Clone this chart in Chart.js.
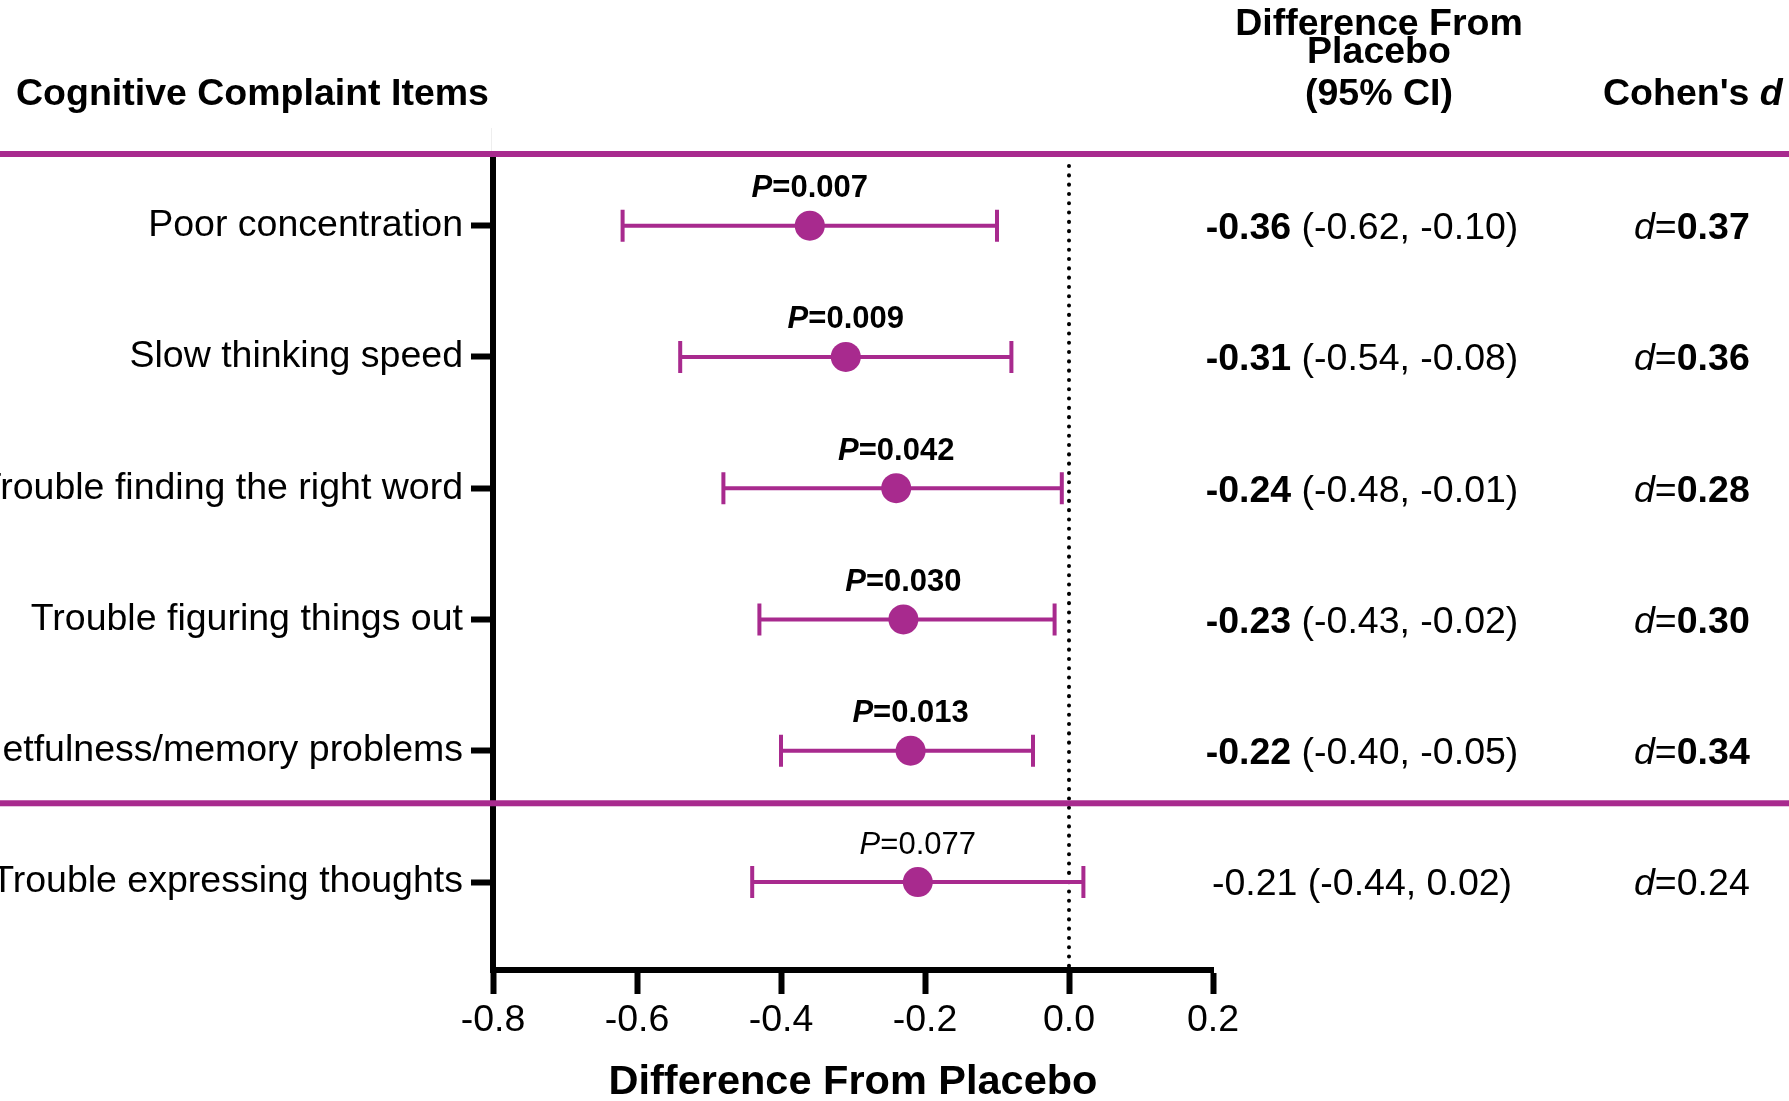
<!DOCTYPE html>
<html>
<head>
<meta charset="utf-8">
<script src="https://cdn.jsdelivr.net/npm/chart.js@4.4.1/dist/chart.umd.min.js"></script>
<style>
  body { margin: 0; background: #fff; }
  #wrap { width: 1789px; height: 1101px; position: relative; }
</style>
</head>
<body>
<div id="wrap"><canvas id="forest"></canvas></div>
<script>
// data
var categories = ['Poor concentration', 'Slow thinking speed', 'Trouble finding the right word',
                  'Trouble figuring things out', 'Forgetfulness/memory problems', 'Trouble expressing thoughts'];
var diffs   = [-0.36, -0.31, -0.24, -0.23, -0.22, -0.21];
var ciLow   = [-0.62, -0.54, -0.48, -0.43, -0.40, -0.44];
var ciHigh  = [-0.10, -0.08, -0.01, -0.02, -0.05, 0.02];
var pValues = ['0.007', '0.009', '0.042', '0.030', '0.013', '0.077'];
var cohensD = ['0.37', '0.36', '0.28', '0.30', '0.34', '0.24'];
var significant = [true, true, true, true, true, false];
var xTicks = [-0.8, -0.6, -0.4, -0.2, 0, 0.2];

var purple = '#A82A8E';
var fam = '"Liberation Sans", Arial, sans-serif';

function runs(ctx, parts, x, y, align) {
    var total = 0;
    parts.forEach(function (p) { ctx.font = p[1]; total += ctx.measureText(p[0]).width; });
    var cx = align === 'center' ? x - total / 2 : (align === 'right' ? x - total : x);
    ctx.textAlign = 'left';
    parts.forEach(function (p) {
        ctx.font = p[1];
        ctx.fillText(p[0], cx, y);
        cx += ctx.measureText(p[0]).width;
    });
}

var decor = {
    id: 'decor',
    beforeDatasetsDraw: function (chart) {
        var ctx = chart.ctx, xs = chart.scales.x, ys = chart.scales.y, a = chart.chartArea;
        ctx.save();
        // dotted zero line
        ctx.strokeStyle = '#000';
        ctx.lineWidth = 4;
        ctx.lineCap = 'round';
        ctx.setLineDash([0.1, 9.2]);
        ctx.beginPath();
        ctx.moveTo(xs.getPixelForValue(0), a.top + 6);
        ctx.lineTo(xs.getPixelForValue(0), a.bottom);
        ctx.stroke();
        ctx.setLineDash([]);
        ctx.lineCap = 'butt';
        // error bars
        ctx.strokeStyle = purple;
        ctx.lineWidth = 4;
        for (var i = 0; i < diffs.length; i++) {
            var y = ys.getPixelForValue(i + 1);
            var x1 = xs.getPixelForValue(ciLow[i]), x2 = xs.getPixelForValue(ciHigh[i]);
            ctx.beginPath();
            ctx.moveTo(x1, y); ctx.lineTo(x2, y);
            ctx.moveTo(x1, y - 16); ctx.lineTo(x1, y + 16);
            ctx.moveTo(x2, y - 16); ctx.lineTo(x2, y + 16);
            ctx.stroke();
        }
        ctx.restore();
    },
    afterDraw: function (chart) {
        var ctx = chart.ctx, xs = chart.scales.x, ys = chart.scales.y, a = chart.chartArea;
        var W = chart.width;
        ctx.save();
        // separators
        ctx.fillStyle = '#eeeeee';
        ctx.fillRect(a.left - 2, 128, 1, 23);
        ctx.fillStyle = purple;
        ctx.fillRect(0, 151, W, 6);
        var ySep = ys.getPixelForValue(5.4);
        ctx.fillRect(0, ySep - 3, W, 6);

        ctx.fillStyle = '#000';
        ctx.textBaseline = 'middle';
        // headers
        runs(ctx, [['Cognitive Complaint Items', 'bold 37.5px ' + fam]], 16, 95, 'left');
        runs(ctx, [['Difference From', 'bold 37.5px ' + fam]], 1379, 25, 'center');
        runs(ctx, [['Placebo', 'bold 37.5px ' + fam]], 1379, 53, 'center');
        runs(ctx, [['(95% CI)', 'bold 37.5px ' + fam]], 1379, 95, 'center');
        runs(ctx, [["Cohen's ", 'bold 37.5px ' + fam], ['d', 'italic bold 37.5px ' + fam]], 1603, 95, 'left');

        for (var i = 0; i < diffs.length; i++) {
            var y = ys.getPixelForValue(i + 1);
            var b = significant[i] ? 'bold ' : '';
            // p value above the point
            var pFontP = significant[i] ? 'italic bold 31px ' : 'italic 31px ';
            runs(ctx, [['P', pFontP + fam], ['=' + pValues[i], b + '31px ' + fam]],
                 xs.getPixelForValue(diffs[i]), y - 37, 'center');
            // difference (95% CI)
            runs(ctx, [[diffs[i].toFixed(2), b + '37.5px ' + fam],
                       [' (' + ciLow[i].toFixed(2) + ', ' + ciHigh[i].toFixed(2) + ')', '37.5px ' + fam]],
                 1362, y + 3, 'center');
            // Cohen's d
            runs(ctx, [['d', 'italic 37.5px ' + fam], ['=', '37.5px ' + fam], [cohensD[i], b + '37.5px ' + fam]],
                 1634, y + 3, 'left');
        }
        // x axis title
        runs(ctx, [['Difference From Placebo', 'bold 41.5px ' + fam]], (a.left + a.right) / 2, 1083, 'center');
        ctx.restore();
    }
};

var ctx = document.getElementById('forest').getContext('2d');
new Chart(ctx, {
    type: 'scatter',
    data: {
        datasets: [{
            label: 'Difference',
            data: diffs.map(function (d, i) { return {x: d, y: i + 1}; }),
            backgroundColor: purple,
            borderWidth: 0,
            pointRadius: 15
        }]
    },
    options: {
        responsive: true,
        maintainAspectRatio: false,
        animation: false,
        layout: {padding: {left: 0, right: 576, top: 160, bottom: 0}},
        plugins: {legend: {display: false}, tooltip: {enabled: false}},
        scales: {
            x: {
                type: 'linear',
                min: -0.8,
                max: 0.2,
                afterBuildTicks: function (s) { s.ticks = xTicks.map(function (v) { return {value: v}; }); },
                afterFit: function (s) { s.height = 131; },
                ticks: {
                    color: '#000',
                    font: {family: fam, size: 37.5},
                    padding: 4,
                    maxRotation: 0,
                    autoSkip: false,
                    callback: function (v) { return Math.abs(v) < 1e-9 ? '0.0' : Number(v).toFixed(1); }
                },
                grid: {display: true, drawOnChartArea: false, drawTicks: true, tickLength: 24, tickWidth: 6, tickColor: '#000'},
                border: {display: true, color: '#000', width: 6}
            },
            y: {
                type: 'linear',
                reverse: true,
                min: 0.5,
                max: 6.67,
                afterBuildTicks: function (s) { s.ticks = categories.map(function (c, i) { return {value: i + 1}; }); },
                afterFit: function (s) { s.width = 493; },
                ticks: {
                    color: '#000',
                    font: {family: fam, size: 37.5},
                    padding: 8,
                    autoSkip: false,
                    callback: function (v) { return categories[v - 1]; }
                },
                grid: {display: true, drawOnChartArea: false, drawTicks: true, tickLength: 22, tickWidth: 6, tickColor: '#000'},
                border: {display: true, color: '#000', width: 6}
            }
        }
    },
    plugins: [decor]
});
</script>
</body>
</html>
